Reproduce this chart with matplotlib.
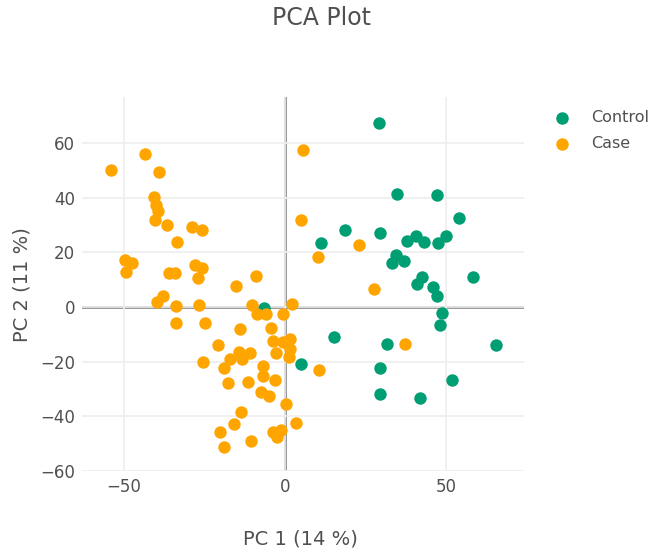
import matplotlib.pyplot as plt

# PCA scores per group
control_pc1 = [29.1, 34.8, 47.2, 54.0, 18.6, 29.4, 11.2, 38.0, 40.6, 43.2,
               47.6, 50.0, 34.6, 33.1, 36.9, 58.5, 42.4, 40.9, 45.9, 47.2,
               48.7, 48.1, 15.3, 31.6, 65.4, 4.9, 29.4, 51.8, 29.6, 42.0, -6.4]
control_pc2 = [67.5, 41.3, 40.9, 32.4, 28.0, 27.0, 23.4, 24.3, 26.1, 23.7,
               23.6, 25.8, 19.0, 16.2, 16.7, 11.1, 11.0, 8.3, 7.3, 4.1,
               -2.4, -6.5, -11.0, -13.4, -13.8, -20.8, -22.3, -26.9, -32.0, -33.2, -0.5]

case_pc1 = [-54.1, -43.5, -39.2, -40.7, -40.1, -39.3, -40.2, -36.6, -29.0, -25.9,
            -33.4, -49.5, -47.5, -49.4, -35.9, -34.2, -28.0, -25.6, -27.1, -15.2,
            -9.0, -38.0, -39.8, -33.9, -26.6, -10.3, 2.1, 5.6, 5.0, 22.9,
            10.2, 27.7, -8.8, -5.9, -0.5, -33.9, -24.8, -13.9, -4.4, -20.8,
            -3.8, -0.7, 1.6, 1.6, 1.3, -2.9, -14.2, -13.4, -10.8, -17.1,
            -25.4, -18.9, -6.8, -6.8, -3.2, -11.6, -17.6, -7.5, -4.9, 0.4,
            -13.7, -15.7, 3.4, -20.3, -3.6, -1.2, -2.5, -10.6, -19.0, 37.3, 10.7]
case_pc2 = [50.2, 55.9, 49.5, 40.2, 37.2, 35.3, 32.0, 29.9, 29.1, 28.3,
            23.8, 17.2, 16.2, 12.9, 12.5, 12.5, 15.3, 14.3, 10.5, 7.8,
            11.5, 4.1, 1.7, 0.4, 0.7, 0.7, 1.0, 57.4, 32.0, 22.6,
            18.2, 6.7, -2.7, -2.6, -2.6, -5.9, -5.9, -8.1, -7.9, -13.8,
            -12.3, -12.9, -11.6, -15.5, -18.4, -17.0, -16.6, -19.0, -16.7, -19.2,
            -20.3, -22.3, -21.7, -25.4, -26.7, -27.4, -27.7, -31.0, -32.5, -35.4,
            -38.6, -43.0, -42.7, -45.8, -45.8, -45.2, -47.5, -49.2, -51.3, -13.6, -23.1]

groups = ['Control', 'Case']
colors = ['#009E73', '#FFA500']
x_ticks = [-50, 0, 50]
y_ticks = [-60, -40, -20, 0, 20, 40, 60]

plt.rcParams['font.family'] = ['DejaVu Sans']
text_col = '#505050'
W, H = 651, 553

fig = plt.figure(figsize=(W / 100, H / 100), dpi=100)
ax = fig.add_axes([82 / W, 1 - 471 / H, (524 - 82) / W, (471 - 97) / H])

for name, col, xs, ys in zip(groups, colors,
                             [control_pc1, case_pc1], [control_pc2, case_pc2]):
    ax.scatter(xs, ys, s=80, color=col, linewidths=0, label=name, zorder=3)

ax.set_xlim(-63.0, 74.2)
ax.set_ylim(-60.1, 76.9)
ax.set_xticks(x_ticks)
ax.set_yticks(y_ticks)
ax.set_xticklabels([f'{t}'.replace('-', '\u2212') for t in x_ticks])
ax.set_yticklabels([f'{t}'.replace('-', '\u2212') for t in y_ticks])
ax.grid(color='#eeeeee', linewidth=1.2, zorder=0)
ax.axhline(0, color='#7a7a7a', linewidth=1.8, zorder=1)
ax.axvline(0, color='#7a7a7a', linewidth=1.8, zorder=1)
for sp in ax.spines.values():
    sp.set_visible(False)
ax.tick_params(length=0, pad=5, labelsize=12, colors=text_col)

fig.text(300 / W, 1 - 539 / H, 'PC 1 (14 %)', ha='center', va='center',
         fontsize=14, color=text_col)
fig.text(22 / W, 1 - 285 / H, 'PC 2 (11 %)', ha='center', va='center',
         rotation=90, fontsize=14, color=text_col)
fig.text(322 / W, 1 - 18 / H, 'PCA Plot', ha='center', va='center',
         fontsize=17, color=text_col)

# legend entries placed in figure pixels
for i, (name, col) in enumerate(zip(groups, colors)):
    yy = 1 - (118 + 26 * i) / H
    fig.add_artist(plt.Line2D([562 / W], [yy], marker='o', markersize=9,
                              color=col, markeredgewidth=0, linestyle='none'))
    fig.text(591 / W, yy, name, ha='left', va='center', fontsize=11.5,
             color=text_col)

fig.savefig('out.png', dpi=100)
